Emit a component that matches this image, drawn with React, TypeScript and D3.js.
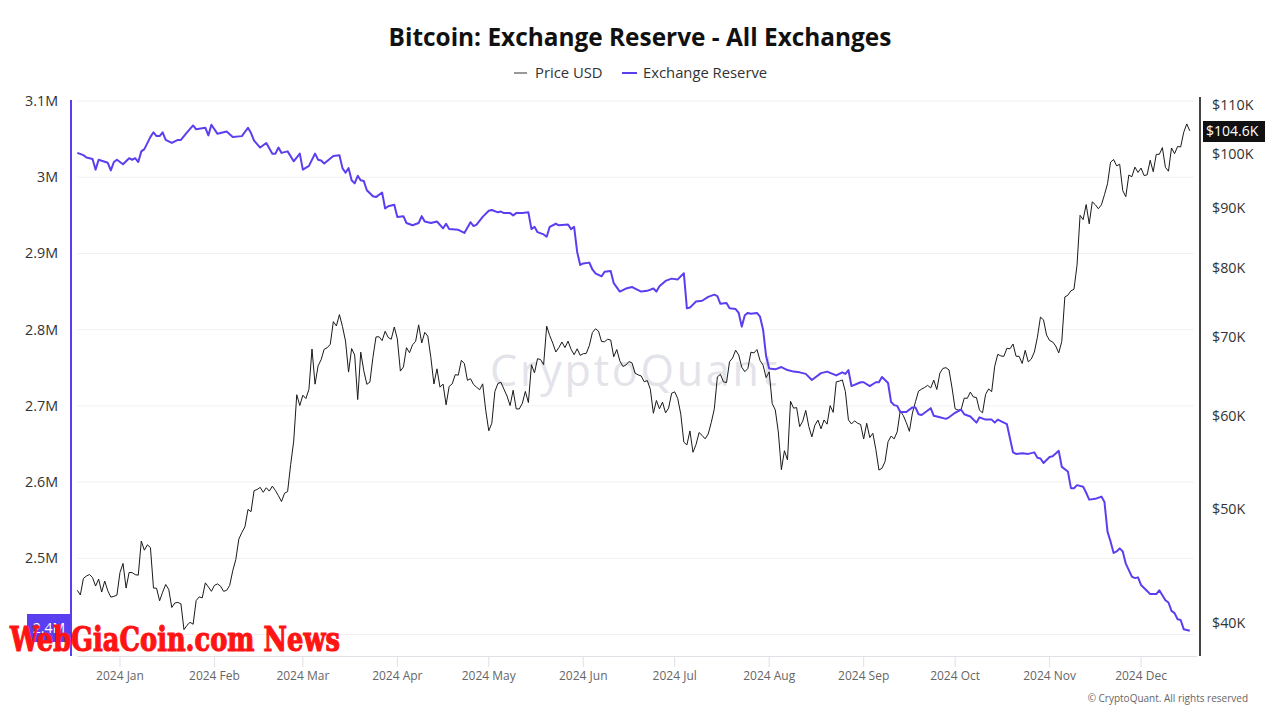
import React from "react";
import * as d3 from "d3";

// ---------- DATA ----------
const startDate = new Date(Date.UTC(2023, 11, 18));
const endDate = new Date(Date.UTC(2024, 11, 17));

// BTC daily price (thousand USD), from 2023-12-18
const priceDec2023 = [42.66, 42.28, 43.67, 43.87, 44.0, 43.74, 43.02, 43.61, 42.52, 43.44, 42.63, 42.1, 42.16, 42.27];
const priceJan = [44.17, 44.96, 42.85, 44.18, 44.16, 43.99, 43.94, 46.97, 46.14, 46.63, 46.37, 42.85, 42.84, 41.8, 42.51, 43.15, 42.74, 41.26, 41.62, 41.67, 41.55, 39.51, 39.85, 40.08, 39.93, 41.82, 42.12, 42.04, 43.29, 42.95, 42.58];
const priceFeb = [43.08, 43.2, 43.01, 42.58, 42.66, 43.08, 44.32, 45.3, 47.15, 47.77, 48.29, 49.96, 49.74, 51.83, 51.94, 52.16, 51.66, 52.12, 51.78, 52.28, 51.84, 51.31, 50.73, 51.57, 51.73, 54.52, 57.09, 62.5, 61.2];
const priceMar = [62.44, 62.03, 63.17, 68.33, 63.8, 66.11, 66.93, 68.3, 68.5, 68.97, 72.08, 71.48, 73.08, 71.4, 69.4, 65.32, 68.39, 67.55, 61.91, 67.91, 65.49, 63.78, 64.06, 67.23, 69.96, 69.99, 69.46, 70.74, 69.89, 69.65, 71.33];
const priceApr = [69.7, 65.45, 65.98, 68.51, 67.84, 68.9, 69.36, 71.63, 69.14, 70.59, 70.06, 67.2, 63.82, 65.74, 63.43, 63.81, 61.28, 63.51, 63.84, 64.99, 64.93, 66.84, 66.41, 64.28, 64.48, 63.76, 63.42, 63.11, 63.84, 60.64];
const priceMay = [58.25, 59.12, 62.89, 63.89, 64.03, 63.16, 62.33, 61.19, 63.05, 60.79, 60.79, 61.45, 62.9, 61.55, 66.27, 65.23, 67.05, 66.94, 66.28, 71.45, 70.14, 69.12, 67.93, 68.53, 69.27, 68.52, 69.39, 68.3, 67.58, 68.36, 67.49];
const priceJun = [67.71, 67.75, 68.8, 70.57, 71.08, 70.76, 69.34, 69.31, 69.65, 69.54, 67.31, 68.26, 66.77, 66.04, 66.23, 66.68, 66.5, 65.18, 64.97, 64.83, 64.1, 64.25, 63.18, 60.28, 61.8, 60.81, 61.6, 60.32, 60.89, 62.68];
const priceJul = [62.85, 62.03, 60.17, 56.98, 56.66, 58.23, 55.86, 56.71, 58.05, 57.73, 57.34, 57.89, 59.2, 60.8, 64.72, 65.04, 64.09, 63.99, 66.66, 67.14, 68.17, 67.53, 65.94, 65.37, 65.78, 67.91, 67.81, 68.26, 66.82, 66.2, 64.62];
const priceAug = [65.36, 61.42, 60.68, 58.12, 53.99, 56.03, 55.03, 61.71, 60.88, 60.95, 58.72, 59.35, 60.61, 58.74, 57.56, 58.89, 59.48, 58.48, 59.49, 59.01, 61.18, 60.38, 64.09, 64.18, 64.33, 62.88, 59.5, 59.03, 59.39, 59.12, 58.97];
const priceSep = [57.33, 59.11, 57.49, 57.97, 56.16, 53.95, 54.14, 54.84, 57.02, 57.65, 57.34, 58.13, 60.57, 60.01, 59.18, 58.19, 60.31, 61.65, 62.94, 63.19, 63.39, 63.65, 63.33, 64.3, 63.14, 65.18, 65.79, 65.89, 65.6, 63.33];
const priceOct = [60.81, 60.65, 60.75, 62.09, 62.06, 62.82, 62.22, 62.16, 60.64, 60.33, 62.54, 63.21, 62.87, 66.08, 67.62, 67.42, 67.36, 68.43, 68.36, 69.0, 67.37, 67.36, 66.43, 68.16, 66.64, 67.01, 67.93, 69.91, 72.72, 72.34, 70.22];
const priceNov = [69.48, 69.29, 68.74, 67.81, 69.36, 75.64, 75.9, 76.55, 76.78, 80.47, 88.7, 87.96, 90.59, 87.25, 91.07, 90.56, 89.85, 90.54, 92.34, 94.34, 98.39, 98.92, 97.7, 98.01, 93.1, 91.99, 95.96, 95.65, 97.46, 96.45];
const priceDec = [97.28, 95.87, 96.0, 98.77, 96.59, 99.92, 99.92, 101.24, 97.43, 96.68, 101.17, 100.04, 101.46, 101.37, 104.3, 106.03, 104.6];

// Exchange reserve: days since 2023-12-18 and value (thousand BTC)
const reserveDayOffset = [
  0, 2, 3, 5, 6, 7, 10, 11, 12, 13, 15, 17, 18, 19, 20, 21, 22, 24, 25, 26, 27, 28, 29, 31, 33, 34, 36, 38, 39, 42,
  43, 44, 46, 49, 51, 54, 56, 57, 58, 60, 62, 64, 65, 66, 67, 69, 71, 73, 74, 76, 78, 79, 80, 81, 84, 86, 87, 88, 89, 90,
  91, 92, 93, 94, 95, 97, 98, 100, 101, 102, 104, 105, 107, 108, 110, 112, 113, 114, 116, 118, 120, 121, 122, 125, 127, 129, 130, 131, 133, 135,
  136, 138, 139, 140, 142, 143, 144, 146, 148, 149, 150, 151, 153, 154, 155, 157, 158, 161, 162, 163, 164, 165, 166, 168, 169, 170, 172, 173, 175, 176,
  178, 180, 182, 183, 185, 187, 189, 190, 191, 193, 195, 197, 199, 200, 201, 203, 205, 207, 209, 210, 211, 213, 214, 216, 217, 218, 219, 220, 221, 223,
  224, 225, 226, 227, 229, 231, 233, 235, 237, 239, 241, 244, 246, 249, 251, 252, 253, 254, 257, 258, 260, 262, 263, 264, 266, 267, 268, 269, 270, 272,
  274, 275, 276, 277, 280, 281, 283, 285, 286, 288, 290, 291, 293, 295, 296, 298, 300, 301, 302, 304, 305, 307, 308, 310, 312, 314, 315, 316, 317, 319,
  320, 322, 323, 325, 326, 327, 328, 330, 331, 332, 334, 336, 337, 338, 339, 340, 341, 342, 343, 344, 346, 347, 348, 349, 351, 352, 354, 355, 357, 358,
  359, 360, 361, 362, 363, 365,
];
const reserveValue = [
  3032, 3029, 3026, 3024, 3010, 3023, 3019, 3009, 3020, 3023, 3017, 3025, 3023, 3025, 3020, 3034, 3037, 3053, 3059, 3054, 3054, 3059, 3049, 3045, 3049, 3049, 3059, 3068, 3063, 3065,
  3055, 3069, 3057, 3060, 3053, 3054, 3065, 3058, 3048, 3039, 3045, 3031, 3031, 3039, 3032, 3034, 3021, 3031, 3010, 3015, 3031, 3023, 3022, 3018, 3028, 3029, 3012, 3006, 3012, 2996,
  2992, 3002, 2996, 2995, 2983, 2975, 2974, 2980, 2959, 2962, 2964, 2948, 2949, 2940, 2937, 2940, 2949, 2942, 2940, 2942, 2933, 2939, 2932, 2931, 2927, 2941, 2936, 2938, 2948, 2956,
  2957, 2954, 2955, 2953, 2953, 2950, 2953, 2953, 2954, 2932, 2935, 2928, 2925, 2922, 2935, 2939, 2937, 2938, 2932, 2935, 2902, 2885, 2887, 2888, 2879, 2874, 2870, 2876, 2877, 2861,
  2850, 2854, 2856, 2854, 2850, 2851, 2854, 2850, 2857, 2864, 2867, 2866, 2874, 2828, 2829, 2837, 2838, 2843, 2846, 2844, 2834, 2835, 2828, 2827, 2822, 2804, 2819, 2822, 2821, 2822,
  2817, 2800, 2765, 2749, 2748, 2751, 2747, 2745, 2744, 2742, 2734, 2743, 2745, 2740, 2744, 2742, 2747, 2726, 2731, 2731, 2726, 2731, 2731, 2738, 2730, 2705, 2701, 2700, 2692, 2692,
  2698, 2698, 2689, 2688, 2697, 2687, 2685, 2683, 2685, 2691, 2695, 2689, 2686, 2678, 2685, 2682, 2682, 2678, 2682, 2678, 2676, 2639, 2637, 2638, 2637, 2639, 2632, 2631, 2625, 2633,
  2634, 2641, 2620, 2614, 2592, 2592, 2596, 2594, 2586, 2577, 2578, 2581, 2574, 2535, 2522, 2507, 2509, 2513, 2509, 2493, 2476, 2474, 2475, 2465, 2457, 2453, 2453, 2458, 2445, 2442,
  2431, 2428, 2420, 2419, 2407, 2405,
];

const reserveTicks = [2500, 2600, 2700, 2800, 2900, 3000, 3100];
const priceTicks = [40, 50, 60, 70, 80, 90, 100, 110];

const titleText = "Bitcoin: Exchange Reserve - All Exchanges";
const legendPrice = "Price USD";
const legendReserve = "Exchange Reserve";

// ---------- STYLE ----------
const PURPLE = "#5a3ff0";
const FONT = "'Open Sans', 'Noto Sans', sans-serif";
const DAY = 86400000;

export default function App() {
  const prices = [
    ...priceDec2023, ...priceJan, ...priceFeb, ...priceMar, ...priceApr, ...priceMay,
    ...priceJun, ...priceJul, ...priceAug, ...priceSep, ...priceOct, ...priceNov, ...priceDec,
  ];
  const priceData = prices.map((p, i) => ({ date: new Date(startDate.getTime() + i * DAY), v: p }));
  const reserveData = reserveDayOffset.map((d, i) => ({
    date: new Date(startDate.getTime() + d * DAY),
    v: reserveValue[i],
  }));

  const top = 100;
  const bottom = 656;
  const x = d3.scaleUtc().domain([startDate, endDate]).range([77.3, 1189.8]);
  const yRes = d3.scaleLinear().domain([2371.8, 3101.4]).range([bottom, top]);
  const yPrice = d3.scaleLog().domain([37.53, 111.1]).range([bottom, top]);

  const priceLine = d3
    .line<{ date: Date; v: number }>()
    .x((d) => x(d.date))
    .y((d) => yPrice(d.v))(priceData);
  const resLine = d3
    .line<{ date: Date; v: number }>()
    .x((d) => x(d.date))
    .y((d) => yRes(d.v))(reserveData);

  const monthTicks = d3.utcMonth.range(new Date(Date.UTC(2024, 0, 1)), endDate);
  const fmtMonth = d3.utcFormat("%Y %b");

  const lastRes = reserveValue[reserveValue.length - 1];
  const lastPrice = prices[prices.length - 1];

  return (
    <svg
      width={1280}
      height={720}
      style={{ position: "absolute", left: 0, top: 0, background: "#fff" }}
      fontFamily={FONT}
    >
      <rect x={0} y={0} width={1280} height={720} fill="#fff" />
      {/* title */}
      <text x={640} y={46} textAnchor="middle" fontSize={24.4} fontWeight={700} fill="#111">
        {titleText}
      </text>
      {/* legend */}
      <line x1={514} x2={527} y1={73} y2={73} stroke="#333" strokeWidth={1} />
      <text x={535} y={78} fontSize={14.8} fill="#333">{legendPrice}</text>
      <line x1={622} x2={637} y1={73} y2={73} stroke={PURPLE} strokeWidth={2} />
      <text x={643} y={78} fontSize={14.8} fill="#333">{legendReserve}</text>

      {/* gridlines */}
      {[2400, ...reserveTicks].map((t) => (
        <line key={t} x1={77} x2={1194} y1={yRes(t)} y2={yRes(t)} stroke="#f1f1f3" strokeWidth={1} />
      ))}

      {/* watermark */}
      <text x={490} y={386} fontSize={43} fontWeight={500} fill="#e3e3ea" textLength={287} lengthAdjust="spacing">
        CryptoQuant
      </text>

      {/* x axis */}
      <line x1={77} x2={1197} y1={656.5} y2={656.5} stroke="#e0e0e6" strokeWidth={1} />
      {monthTicks.map((m) => (
        <g key={m.toISOString()}>
          <line x1={x(m)} x2={x(m)} y1={657} y2={667} stroke="#e0e0e6" strokeWidth={1} />
          <text x={x(m)} y={680} textAnchor="middle" fontSize={12} fill="#666">
            {fmtMonth(m)}
          </text>
        </g>
      ))}

      {/* lines */}
      <path d={priceLine || ""} fill="none" stroke="#1a1a1a" strokeWidth={1} />
      <path d={resLine || ""} fill="none" stroke={PURPLE} strokeWidth={2} strokeLinejoin="round" />

      {/* left axis */}
      <line x1={71} x2={71} y1={top} y2={bottom} stroke={PURPLE} strokeWidth={2} />
      {reserveTicks.map((t) => (
        <text key={t} x={58} y={yRes(t)} dy="0.35em" textAnchor="end" fontSize={14.3} fill="#333">
          {`${t / 1000}M`}
        </text>
      ))}
      <rect x={27} y={614} width={44} height={28} fill={PURPLE} />
      <text x={49} y={628} dy="0.35em" textAnchor="middle" fontSize={14} fill="#fff">
        {`${Math.round(lastRes / 100) / 10}M`}
      </text>

      {/* right axis */}
      <line x1={1200} x2={1200} y1={97} y2={bottom} stroke="#444" strokeWidth={2} />
      {priceTicks.map((t) => (
        <text key={t} x={1212} y={yPrice(t)} dy="0.35em" fontSize={14.3} fill="#333">
          {`$${t}K`}
        </text>
      ))}
      <rect x={1203} y={121} width={62} height={21} fill="#111" />
      <text x={1206} y={yPrice(lastPrice)} dy="0.35em" fontSize={14} fill="#fff">
        {`$${lastPrice.toFixed(1)}K`}
      </text>

      {/* credit */}
      <text x={1248} y={702} textAnchor="end" fontSize={10} fill="#666">
        © CryptoQuant. All rights reserved
      </text>

      {/* site watermark */}
      <text
        x={10}
        y={651}
        fontFamily="'DejaVu Serif', serif"
        fontWeight={700}
        fontSize={34}
        fill="#ff1414"
        stroke="#ff1414"
        strokeWidth={1.2}
        textLength={330}
        lengthAdjust="spacingAndGlyphs"
      >
        WebGiaCoin.com News
      </text>
    </svg>
  );
}
